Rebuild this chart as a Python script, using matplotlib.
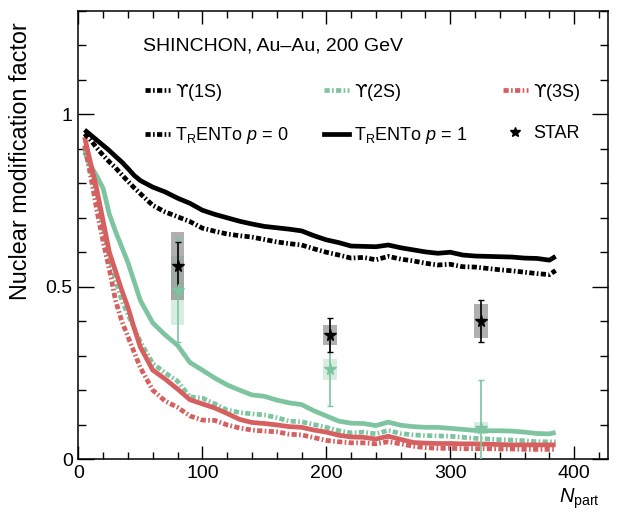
import matplotlib
matplotlib.use("Agg")
import matplotlib.pyplot as plt
from matplotlib.lines import Line2D
from matplotlib.ticker import MultipleLocator

plt.rcParams["font.family"] = ["Liberation Sans", "DejaVu Sans"]
plt.rcParams["mathtext.fontset"] = "custom"
plt.rcParams["mathtext.rm"] = "Liberation Sans"
plt.rcParams["mathtext.it"] = "Liberation Sans:italic"
plt.rcParams["mathtext.sf"] = "DejaVu Sans"

# model curves (SHINCHON) vs Npart
npart = [5, 10, 15, 20, 25, 30, 35, 40, 45, 50, 60, 70, 80, 90, 100, 110, 120,
         130, 140, 150, 160, 170, 180, 190, 200, 210, 220, 230, 240, 250, 260,
         270, 280, 290, 300, 310, 320, 330, 340, 350, 360, 370, 380, 385]

raa_1s_p1 = [0.955, 0.94, 0.925, 0.91, 0.895, 0.878, 0.862, 0.843, 0.823, 0.808,
             0.789, 0.775, 0.757, 0.742, 0.722, 0.71, 0.70, 0.69, 0.682, 0.675,
             0.671, 0.667, 0.662, 0.648, 0.636, 0.628, 0.618, 0.617, 0.616, 0.621,
             0.613, 0.607, 0.601, 0.597, 0.600, 0.592, 0.589, 0.588, 0.587, 0.586,
             0.583, 0.582, 0.577, 0.588]
raa_1s_p0 = [0.944, 0.925, 0.902, 0.881, 0.862, 0.845, 0.825, 0.806, 0.787, 0.770,
             0.736, 0.717, 0.703, 0.689, 0.670, 0.661, 0.653, 0.648, 0.644, 0.637,
             0.630, 0.625, 0.621, 0.61, 0.600, 0.592, 0.583, 0.585, 0.578, 0.588,
             0.58, 0.575, 0.568, 0.563, 0.565, 0.558, 0.557, 0.553, 0.549, 0.546,
             0.542, 0.538, 0.535, 0.547]
raa_2s_p1 = [0.89, 0.85, 0.82, 0.785, 0.71, 0.66, 0.615, 0.57, 0.515, 0.46,
             0.395, 0.36, 0.33, 0.28, 0.258, 0.235, 0.215, 0.2, 0.186, 0.182,
             0.171, 0.163, 0.158, 0.14, 0.125, 0.11, 0.104, 0.103, 0.097, 0.107,
             0.098, 0.094, 0.092, 0.092, 0.089, 0.086, 0.083, 0.082, 0.082, 0.081,
             0.078, 0.074, 0.073, 0.077]
raa_2s_p0 = [0.90, 0.84, 0.77, 0.67, 0.585, 0.52, 0.46, 0.42, 0.38, 0.34,
             0.277, 0.25, 0.226, 0.18, 0.177, 0.16, 0.142, 0.135, 0.131, 0.128,
             0.12, 0.11, 0.108, 0.10, 0.092, 0.082, 0.076, 0.078, 0.073, 0.083,
             0.074, 0.07, 0.068, 0.067, 0.066, 0.063, 0.06, 0.058, 0.056, 0.055,
             0.053, 0.05, 0.05, 0.05]
raa_3s_p1 = [0.934, 0.857, 0.78, 0.69, 0.60, 0.545, 0.49, 0.44, 0.38, 0.325,
             0.258, 0.232, 0.203, 0.172, 0.16, 0.148, 0.132, 0.115, 0.106, 0.103,
             0.099, 0.094, 0.092, 0.084, 0.078, 0.069, 0.064, 0.063, 0.058, 0.066,
             0.057, 0.048, 0.046, 0.045, 0.045, 0.044, 0.044, 0.043, 0.042, 0.041,
             0.041, 0.041, 0.041, 0.041]
raa_3s_p0 = [0.91, 0.82, 0.72, 0.63, 0.55, 0.46, 0.40, 0.355, 0.31, 0.265,
             0.20, 0.168, 0.15, 0.125, 0.113, 0.112, 0.099, 0.09, 0.084, 0.081,
             0.079, 0.072, 0.07, 0.062, 0.054, 0.05, 0.047, 0.047, 0.044, 0.05,
             0.044, 0.037, 0.033, 0.031, 0.031, 0.030, 0.030, 0.030, 0.029, 0.029,
             0.028, 0.028, 0.028, 0.028]

# STAR data
star_npart = [80, 203, 325]
star_1s = [0.56, 0.36, 0.40]
star_1s_stat = [0.07, 0.05, 0.06]
star_1s_syst = [0.10, 0.03, 0.05]
star_2s = [0.49, 0.26, 0.09]
star_2s_stat = [0.15, 0.105, 0.14]
star_2s_syst = [0.10, 0.03, 0.016]

BLACK = "black"
GREEN = "#7ec4a0"
RED = "#d65f5f"
DASHDOT = (0, (1.1, 0.5, 0.35, 0.5))
LW = 3.4
FS = 13

fig = plt.figure(figsize=(6.22, 5.12), dpi=100)
ax = fig.add_axes([0.126, 0.1035, 0.851, 0.875])

ax.plot(npart, raa_2s_p1, color=GREEN, lw=LW, solid_capstyle="butt")
ax.plot(npart, raa_2s_p0, color=GREEN, lw=LW, ls=DASHDOT)
ax.plot(npart, raa_3s_p1, color=RED, lw=LW, solid_capstyle="butt")
ax.plot(npart, raa_3s_p0, color=RED, lw=LW, ls=DASHDOT)
ax.plot(npart, raa_1s_p1, color=BLACK, lw=LW, solid_capstyle="butt")
ax.plot(npart, raa_1s_p0, color=BLACK, lw=LW, ls=DASHDOT)

# systematic boxes
ax.bar(star_npart, [2 * s for s in star_2s_syst],
       bottom=[v - s for v, s in zip(star_2s, star_2s_syst)],
       width=11, color=GREEN, alpha=0.3, lw=0, zorder=4)
ax.bar(star_npart, [2 * s for s in star_1s_syst],
       bottom=[v - s for v, s in zip(star_1s, star_1s_syst)],
       width=11, color="#707070", alpha=0.55, lw=0, zorder=4)

ax.errorbar(star_npart, star_2s, yerr=star_2s_stat, fmt="none", ecolor=GREEN,
            elinewidth=1.2, capsize=2, capthick=1.0, zorder=5)
ax.plot(star_npart, star_2s, ls="none", marker="*", ms=8.5, color=GREEN, zorder=6)
ax.errorbar(star_npart, star_1s, yerr=star_1s_stat, fmt="none", ecolor=BLACK,
            elinewidth=1.2, capsize=2, capthick=1.0, zorder=5)
ax.plot(star_npart, star_1s, ls="none", marker="*", ms=8.5, color=BLACK, zorder=6)

ax.set_xlim(0, 427)
ax.set_ylim(0, 1.3)
ax.xaxis.set_major_locator(MultipleLocator(100))
ax.xaxis.set_minor_locator(MultipleLocator(20))
ax.yaxis.set_major_locator(MultipleLocator(0.5))
ax.yaxis.set_minor_locator(MultipleLocator(0.1))
ax.set_yticks([0, 0.5, 1])
ax.set_yticklabels(["0", "0.5", "1"])
ax.tick_params(axis="both", which="both", direction="in", top=True, right=True,
               labelsize=14, width=1.0)
ax.tick_params(axis="x", which="major", length=9.6, pad=4)
ax.tick_params(axis="x", which="minor", length=4.8)
ax.tick_params(axis="y", which="major", length=11.4, pad=4)
ax.tick_params(axis="y", which="minor", length=5.7)
for sp in ax.spines.values():
    sp.set_linewidth(1.1)

ax.set_ylabel("Nuclear modification factor", fontsize=16.8)
ax.yaxis.set_label_coords(-0.088, 0.975)
ax.yaxis.label.set_horizontalalignment("right")
ax.set_xlabel(r"$N_{\mathrm{part}}$", fontsize=14.5)
ax.xaxis.set_label_coords(0.985, -0.062)
ax.xaxis.label.set_horizontalalignment("right")
ax.xaxis.label.set_verticalalignment("top")

ax.text(0.122, 0.922, "SHINCHON, Au\u2013Au, 200 GeV", transform=ax.transAxes,
        fontsize=14, va="center", ha="left")

upsilon = "$\\mathsf{\u03d2}$"
handles = [
    Line2D([], [], color=BLACK, lw=LW, ls=DASHDOT),
    Line2D([], [], color=BLACK, lw=LW, ls=DASHDOT),
    Line2D([], [], color=GREEN, lw=LW, ls=DASHDOT),
    Line2D([], [], color=BLACK, lw=LW),
    Line2D([], [], color=RED, lw=LW, ls=DASHDOT),
    Line2D([], [], color=BLACK, ls="none", marker="*", ms=7),
]
labels = [upsilon + "(1S)", r"T$_{\mathrm{R}}$ENTo $p$ = 0",
          upsilon + "(2S)", r"T$_{\mathrm{R}}$ENTo $p$ = 1",
          upsilon + "(3S)", "STAR"]
ax.legend(handles, labels, ncol=3, loc="upper left", bbox_to_anchor=(0.1256, 0.8425),
          frameon=False, fontsize=FS, borderpad=0, borderaxespad=0,
          handlelength=1.39, handletextpad=0.28, columnspacing=1.95,
          labelspacing=1.25)

fig.savefig("out.png", dpi=100)
